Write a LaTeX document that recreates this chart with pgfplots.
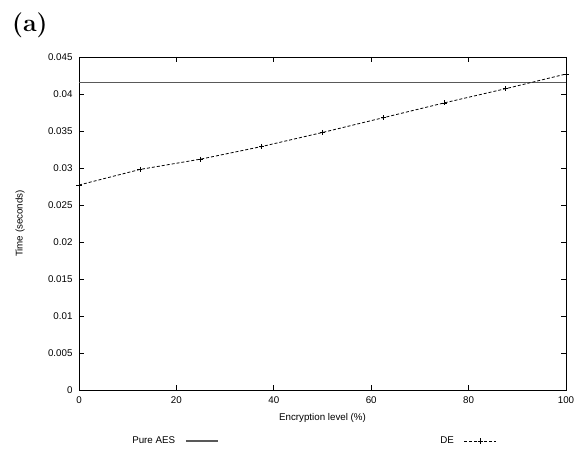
\documentclass[border=0pt]{standalone}
\usepackage{fontspec}
\setsansfont{Liberation Sans}
\usepackage{pgfplots}
\pgfplotsset{compat=1.18}

\begin{document}
\begin{tikzpicture}
\begin{axis}[
  name=ax,
  scale only axis,
  width=487bp,
  height=333bp,
  xmin=0, xmax=100,
  ymin=0, ymax=0.045,
  xtick={0,20,40,60,80,100},
  ytick={0,0.005,0.01,0.015,0.02,0.025,0.03,0.035,0.04,0.045},
  scaled y ticks=false,
  yticklabel style={/pgf/number format/fixed,/pgf/number format/precision=3, xshift=-3bp},
  xticklabel style={yshift=-3bp},
  /pgf/number format/assume math mode=true,
  tick label style={font=\sffamily\fontsize{9.8}{11}\selectfont},
  xlabel={Encryption level (\%)},
  ylabel={Time (seconds)},
  every axis x label/.style={at={(axis description cs:0.5,-0.084)}, anchor=center,
    font=\sffamily\fontsize{9.8}{11}\selectfont},
  every axis y label/.style={at={(axis description cs:-0.121,0.5)}, rotate=90, anchor=center,
    font=\sffamily\fontsize{9.8}{11}\selectfont},
  tick align=inside,
  major tick length=5bp,
  axis line style={line width=0.9bp},
  every tick/.style={black, line width=0.7bp},
  legend columns=2,
  legend plot pos=right,
  legend style={
    at={(axis description cs:0.109,-0.153)}, anchor=west,
    draw=none, fill=none, inner sep=0pt,
    font=\sffamily\fontsize{9.8}{11}\selectfont,
    nodes={inner sep=0pt},
    /tikz/every odd column/.append style={column sep=10bp},
    /tikz/every even column/.append style={column sep=222bp},
  },
  legend image code/.code={
    \draw[mark repeat=2,mark phase=2,#1] plot coordinates {(0bp,0bp) (16bp,0bp) (32bp,0bp)};
  },
]
\addplot[black!65, line width=1.2bp] coordinates {
  (0,0.0415) (100,0.0415)
};
\addlegendentry{Pure AES}
\addplot[black, line width=0.8bp, dash pattern=on 3bp off 2bp, mark=+, mark size=2.6bp,
  mark options={solid, line width=0.7bp}] coordinates {
  (0,0.0277)
  (12.5,0.0298)
  (25,0.0312)
  (37.5,0.0329)
  (50,0.0348)
  (62.5,0.0368)
  (75,0.0388)
  (87.5,0.0407)
  (100,0.0427)
};
\addlegendentry{DE}
\end{axis}
\node[anchor=base west, inner sep=0pt, font=\rmfamily\bfseries\fontsize{25}{30}\selectfont]
  at ([shift={(-67bp,25bp)}]ax.north west) {(a)};
\pgfresetboundingbox
\path[use as bounding box] ([shift={(-79bp,-62bp)}]ax.south west) rectangle ([shift={(10bp,57bp)}]ax.north east);
\end{tikzpicture}
\end{document}
